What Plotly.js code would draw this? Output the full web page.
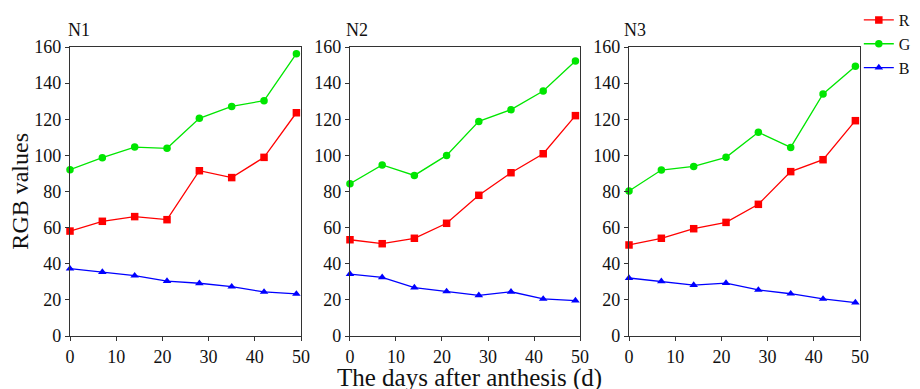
<!DOCTYPE html>
<html>
<head>
<meta charset="utf-8">
<script src="https://cdn.plot.ly/plotly-3.0.1.min.js"></script>
<style>html,body{margin:0;padding:0;background:#fff;}#chart{width:920px;height:389px;}</style>
</head>
<body>
<div id="chart"></div>
<script>
const days = [0, 7, 14, 21, 28, 35, 42, 49];
const panelNames = ["N1", "N2", "N3"];
const seriesNames = ["R", "G", "B"];

const n1R = [58.1, 63.5, 66.1, 64.4, 91.5, 87.7, 98.9, 123.6];
const n1G = [92.1, 98.7, 104.6, 103.9, 120.5, 127.1, 130.3, 156.3];
const n1B = [37.3, 35.4, 33.4, 30.4, 29.2, 27.3, 24.4, 23.3];

const n2R = [53.3, 51.1, 54.1, 62.4, 77.9, 90.4, 100.9, 122.0];
const n2G = [84.3, 94.7, 88.9, 100.0, 118.8, 125.3, 135.6, 152.2];
const n2B = [34.3, 32.5, 26.8, 24.7, 22.5, 24.5, 20.5, 19.6];

const n3R = [50.4, 54.1, 59.4, 62.9, 72.9, 91.0, 97.6, 119.2];
const n3G = [80.3, 91.9, 93.9, 98.9, 112.8, 104.4, 134.0, 149.3];
const n3B = [32.1, 30.3, 28.2, 29.3, 25.5, 23.4, 20.5, 18.5];

const xTicks = [0, 10, 20, 30, 40, 50];
const yTicks = [0, 20, 40, 60, 80, 100, 120, 140, 160];

const panels = [[n1R, n1G, n1B], [n2R, n2G, n2B], [n3R, n3G, n3B]];
const colors = ["#ff0000", "#00e600", "#0000ff"];
const symbols = ["square", "circle", "triangle-up"];

const traces = [];
panels.forEach((p, i) => {
  p.forEach((vals, j) => {
    traces.push({
      x: days, y: vals, type: "scatter", mode: "lines+markers",
      name: seriesNames[j], legendgroup: seriesNames[j], showlegend: i === 0,
      xaxis: i === 0 ? "x" : "x" + (i + 1), yaxis: i === 0 ? "y" : "y" + (i + 1),
      line: {color: colors[j], width: 1.3},
      marker: {color: colors[j], symbol: symbols[j], size: 7.5},
      cliponaxis: false
    });
  });
});

const FAM = "Liberation Serif";
const font = {family: FAM, color: "#111"};
function xa(dom) {
  return {domain: dom, range: [0, 50], tickvals: xTicks, ticks: "outside", ticklen: 4, tickwidth: 1,
    tickcolor: "#333", showline: true, linecolor: "#333", linewidth: 1.2, mirror: true,
    showgrid: false, zeroline: false, tickfont: {family: FAM, size: 18, color: "#111"}};
}
function ya(anchor) {
  return {domain: [0, 1], range: [0, 160], tickvals: yTicks, ticks: "outside", ticklen: 4, tickwidth: 1,
    tickcolor: "#333", showline: true, linecolor: "#333", linewidth: 1.2, mirror: true, anchor: anchor,
    showgrid: false, zeroline: false, tickfont: {family: FAM, size: 18, color: "#111"}};
}

const annXs = [-0.005, 0.3472, 0.6984];
const annotations = panelNames.map((n, i) => ({
  text: n, xref: "paper", yref: "paper", x: annXs[i], y: 1.06, xanchor: "left", yanchor: "middle",
  showarrow: false, font: {family: FAM, size: 18, color: "#111"}
}));
annotations.push({text: "The days after anthesis (d)", xref: "paper", yref: "paper", x: 0.5063, y: -0.146,
  xanchor: "center", yanchor: "middle", showarrow: false, font: {family: FAM, size: 25, color: "#111"}});
annotations.push({text: "RGB values", xref: "paper", yref: "paper", x: -0.0633, y: 0.503, textangle: -90,
  xanchor: "center", yanchor: "middle", showarrow: false, font: {family: FAM, size: 24, color: "#111"}});

const layout = {
  width: 920, height: 389,
  margin: {l: 70, r: 60, t: 47, b: 53, autoexpand: false},
  paper_bgcolor: "#fff", plot_bgcolor: "#fff",
  font: font,
  showlegend: true,
  legend: {x: 0.9985, xanchor: "left", y: 1.152, yanchor: "top", bgcolor: "rgba(0,0,0,0)",
    font: {family: FAM, size: 16, color: "#111"}, tracegroupgap: 0},
  xaxis: xa([0, 0.2924]), yaxis: ya("x"),
  xaxis2: xa([0.3544, 0.6456]), yaxis2: ya("x2"),
  xaxis3: xa([0.7076, 1.0]), yaxis3: ya("x3"),
  annotations: annotations
};
layout.xaxis2.anchor = "y2";
layout.xaxis3.anchor = "y3";

Plotly.newPlot("chart", traces, layout, {displayModeBar: false, staticPlot: true});
</script>
</body>
</html>
